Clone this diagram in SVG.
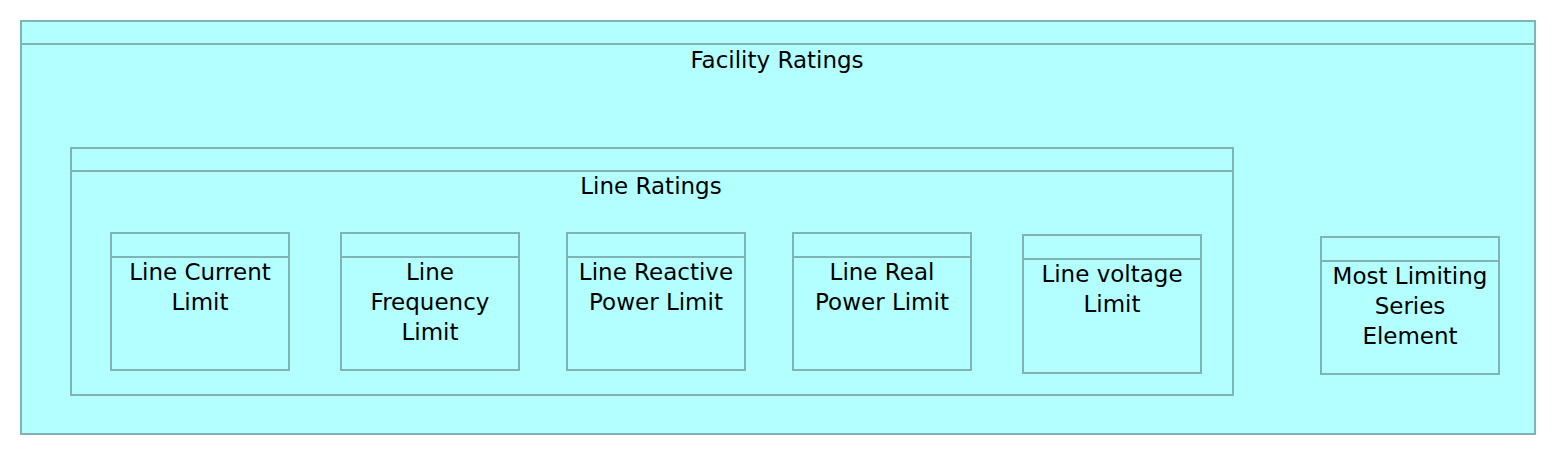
<svg xmlns="http://www.w3.org/2000/svg" width="1556" height="456" viewBox="0 0 1556 456">
<style>
.box{fill:#b3ffff;stroke:#80b3b3;stroke-width:2}
.hd{stroke:#80b3b3;stroke-width:2;fill:none}
.t{font-family:"DejaVu Sans","Open Sans",sans-serif;font-size:23px;fill:#000;text-anchor:middle}
</style>
<rect width="1556" height="456" fill="#ffffff"/>
<g id="facility-ratings">
<rect class="box" x="21" y="21" width="1514" height="413"/>
<line class="hd" x1="21" y1="44" x2="1535" y2="44"/>
<text class="t" x="777" y="68">Facility Ratings</text>
</g>
<g id="line-ratings">
<rect class="box" x="71" y="148" width="1162" height="247"/>
<line class="hd" x1="71" y1="171" x2="1233" y2="171"/>
<text class="t" x="651" y="194">Line Ratings</text>
</g>
<g id="line-current-limit">
<rect class="box" x="111" y="233" width="178" height="137"/>
<line class="hd" x1="111" y1="257" x2="289" y2="257"/>
<text class="t" x="200" y="280">Line Current</text>
<text class="t" x="200" y="310">Limit</text>
</g>
<g id="line-frequency-limit">
<rect class="box" x="341" y="233" width="178" height="137"/>
<line class="hd" x1="341" y1="257" x2="519" y2="257"/>
<text class="t" x="430" y="280">Line</text>
<text class="t" x="430" y="310">Frequency</text>
<text class="t" x="430" y="340">Limit</text>
</g>
<g id="line-reactive-power-limit">
<rect class="box" x="567" y="233" width="178" height="137"/>
<line class="hd" x1="567" y1="257" x2="745" y2="257"/>
<text class="t" x="656" y="280">Line Reactive</text>
<text class="t" x="656" y="310">Power Limit</text>
</g>
<g id="line-real-power-limit">
<rect class="box" x="793" y="233" width="178" height="137"/>
<line class="hd" x1="793" y1="257" x2="971" y2="257"/>
<text class="t" x="882" y="280">Line Real</text>
<text class="t" x="882" y="310">Power Limit</text>
</g>
<g id="line-voltage-limit">
<rect class="box" x="1023" y="235" width="178" height="138"/>
<line class="hd" x1="1023" y1="259" x2="1201" y2="259"/>
<text class="t" x="1112" y="282">Line voltage</text>
<text class="t" x="1112" y="312">Limit</text>
</g>
<g id="most-limiting-series-element">
<rect class="box" x="1321" y="237" width="178" height="137"/>
<line class="hd" x1="1321" y1="261" x2="1499" y2="261"/>
<text class="t" x="1410" y="284">Most Limiting</text>
<text class="t" x="1410" y="314">Series</text>
<text class="t" x="1410" y="344">Element</text>
</g>
<g id="connectors"></g>
</svg>
